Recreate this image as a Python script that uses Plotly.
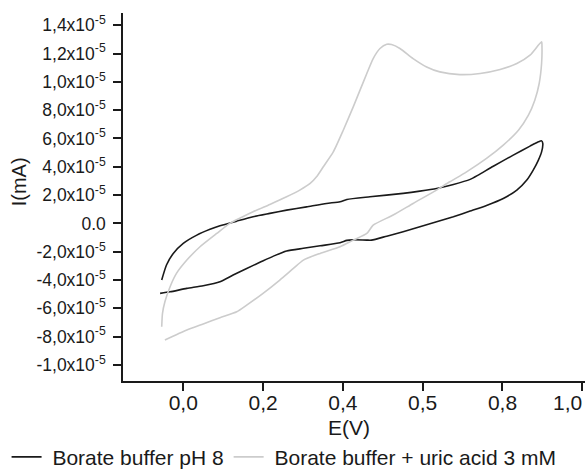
import plotly.graph_objects as go

# Potential E (V) and current I (units of 1e-5 mA)
# Borate buffer pH 8 (forward then reverse sweep)
buffer_E = [-0.054, -0.042, -0.025, 0.000, 0.034, 0.067, 0.092, 0.134, 0.175, 0.217,
            0.259, 0.309, 0.359, 0.393, 0.410, 0.468, 0.551, 0.593, 0.635, 0.677,
            0.719, 0.739, 0.777, 0.827, 0.869, 0.890, 0.898,
            0.901, 0.898, 0.890, 0.877, 0.861, 0.836, 0.802, 0.760, 0.719, 0.677,
            0.635, 0.593, 0.551, 0.510, 0.472, 0.460, 0.426, 0.410, 0.393, 0.343,
            0.301, 0.259, 0.226, 0.192, 0.159, 0.125, 0.092, 0.050, 0.009, -0.033, -0.058]
buffer_I = [-4.00, -2.94, -2.12, -1.41, -0.83, -0.42, -0.17, 0.16, 0.47, 0.71,
            0.94, 1.17, 1.41, 1.53, 1.69, 1.88, 2.12, 2.28, 2.47, 2.75,
            3.11, 3.41, 4.04, 4.82, 5.46, 5.76, 5.83,
            5.65, 5.05, 4.47, 3.76, 3.06, 2.35, 1.76, 1.27, 0.87, 0.47,
            0.11, -0.24, -0.59, -0.90, -1.18, -1.18, -1.16, -1.20, -1.37, -1.58,
            -1.76, -1.95, -2.31, -2.75, -3.18, -3.65, -4.12, -4.40, -4.59, -4.83, -4.94]

# Borate buffer + uric acid 3 mM
uric_E = [-0.054, -0.052, -0.046, -0.033, -0.017, 0.009, 0.042, 0.084, 0.117, 0.175,
          0.217, 0.259, 0.292, 0.318, 0.334, 0.351, 0.376, 0.401, 0.426, 0.443,
          0.460, 0.476, 0.493, 0.510, 0.522, 0.543, 0.576, 0.610, 0.643, 0.693,
          0.744, 0.794, 0.836, 0.869, 0.898,
          0.899, 0.898, 0.892, 0.881, 0.865, 0.840, 0.802, 0.760, 0.710, 0.668,
          0.627, 0.576, 0.526, 0.476, 0.460, 0.426, 0.393, 0.343, 0.301, 0.276,
          0.242, 0.200, 0.159, 0.134, 0.092, 0.050, 0.009, -0.046]
uric_I = [-7.30, -6.35, -5.53, -4.47, -3.53, -2.59, -1.65, -0.71, 0.00, 0.82,
          1.34, 1.88, 2.35, 2.82, 3.29, 4.00, 5.05, 6.58, 8.23, 9.41,
          10.59, 11.64, 12.35, 12.65, 12.63, 12.35, 11.64, 11.05, 10.70, 10.51,
          10.59, 10.87, 11.29, 11.88, 12.82,
          12.46, 11.29, 9.88, 8.70, 7.64, 6.58, 5.53, 4.59, 3.64, 2.94,
          2.23, 1.41, 0.59, -0.12, -0.71, -1.18, -1.65, -2.12, -2.59, -3.18,
          -4.00, -4.94, -5.77, -6.24, -6.66, -7.10, -7.53, -8.24]

x_tickvals = [0.0, 0.2, 0.4, 0.6, 0.8, 1.0]
x_ticktext = ["0,0", "0,2", "0,4", "0,5", "0,8", "1,0" + "\u00a0" * 5]
y_tickvals = [14, 12, 10, 8, 6, 4, 2, 0, -2, -4, -6, -8, -10]
y_ticktext = ["1,4x10<sup>-5</sup>", "1,2x10<sup>-5</sup>", "1,0x10<sup>-5</sup>",
              "8,0x10<sup>-5</sup>", "6,0x10<sup>-5</sup>", "4,0x10<sup>-5</sup>",
              "2,0x10<sup>-5</sup>", "0.0", "-2,0x10<sup>-5</sup>",
              "-4,0x10<sup>-5</sup>", "-6,0x10<sup>-5</sup>", "-8,0x10<sup>-5</sup>",
              "-1,0x10<sup>-5</sup>"]

FONT = "Liberation Sans, Arial, sans-serif"
TXT = "#1a1a1a"

fig = go.Figure()
fig.add_trace(go.Scatter(x=buffer_E, y=buffer_I, mode="lines", name=" Borate buffer pH 8",
                         line=dict(color="#1a1a1a", width=1.6, shape="spline", smoothing=0.6)))
fig.add_trace(go.Scatter(x=uric_E, y=uric_I, mode="lines", name=" Borate buffer + uric acid 3 mM",
                         line=dict(color="#cccccc", width=1.6, shape="spline", smoothing=0.6)))

fig.update_layout(
    width=585, height=470,
    margin=dict(l=123, r=0, t=13, b=89, autoexpand=False),
    paper_bgcolor="white", plot_bgcolor="white",
    font=dict(family=FONT, color=TXT),
    showlegend=True,
    legend=dict(orientation="h", x=-0.252, xanchor="left", y=-0.207, yanchor="middle",
                font=dict(size=21, family=FONT, color=TXT), bgcolor="rgba(0,0,0,0)",
                itemwidth=30, tracegroupgap=0),
    xaxis=dict(range=[-0.151, 1.0068], tickvals=x_tickvals, ticktext=x_ticktext,
               automargin=False, ticklabelstandoff=-6, ticklabeloverflow="allow",
               showline=True, linecolor="#1a1a1a", linewidth=1.5,
               ticks="outside", ticklen=8, tickwidth=1.5, tickcolor="#1a1a1a",
               showgrid=False, zeroline=False, tickfont=dict(size=21, family=FONT, color=TXT)),
    yaxis=dict(range=[-11.13, 14.86], tickvals=y_tickvals, ticktext=y_ticktext,
               automargin=False, ticklabelstandoff=4,
               showline=True, linecolor="#1a1a1a", linewidth=1.5,
               ticks="outside", ticklen=8, tickwidth=1.5, tickcolor="#1a1a1a",
               showgrid=False, zeroline=False, tickfont=dict(size=17.5, family=FONT, color=TXT)),
    annotations=[
        dict(text="E(V)", xref="paper", yref="paper", x=0.489, y=-0.125,
             xanchor="center", yanchor="middle", showarrow=False,
             font=dict(size=21, family=FONT, color=TXT)),
        dict(text="I(mA)", xref="paper", yref="paper", x=-0.225, y=0.54,
             xanchor="center", yanchor="middle", showarrow=False, textangle=-90,
             font=dict(size=20, family=FONT, color=TXT)),
    ],
)

fig.write_html("out.html", post_script="document.body.style.margin='0';",
               config={"displayModeBar": False})
